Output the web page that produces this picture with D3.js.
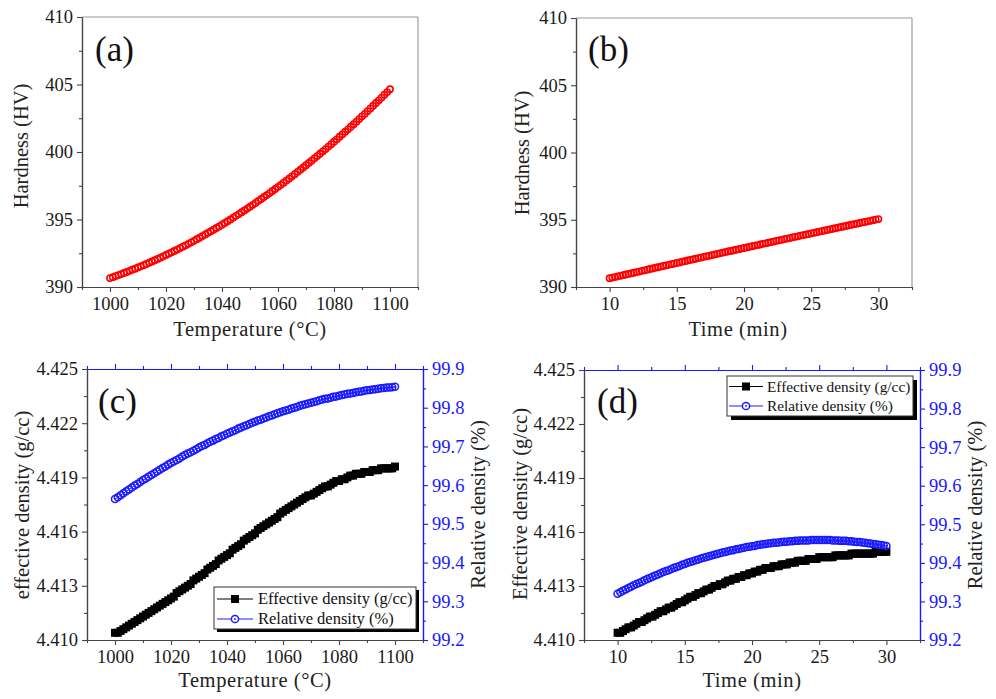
<!DOCTYPE html>
<html><head><meta charset="utf-8">
<script src="https://cdn.jsdelivr.net/npm/d3@7"></script>
<style>
html,body{margin:0;padding:0;background:#fff;}
svg text{font-family:"Liberation Serif","Times New Roman",Times,"DejaVu Serif",serif !important;}
</style></head>
<body>
<svg id="chart" width="996" height="699" font-family="Liberation Serif, Times New Roman, DejaVu Serif, serif"></svg>
<script>
// ---------- data ----------
const tempX = d3.range(1000, 1101, 1);
const timeX = d3.range(0, 101).map(i => +(10 + i * 0.2).toFixed(1));

const hardnessTemp = [390.66,390.73,390.81,390.88,390.96,391.04,391.11,391.20,391.28,391.36,391.45,
391.53,391.62,391.71,391.80,391.89,391.98,392.08,392.17,392.27,392.37,
392.47,392.57,392.67,392.77,392.88,392.99,393.09,393.20,393.31,393.42,
393.54,393.65,393.77,393.89,394.01,394.13,394.25,394.37,394.49,394.62,
394.75,394.87,395.00,395.14,395.27,395.40,395.54,395.67,395.81,395.95,
396.09,396.23,396.38,396.52,396.67,396.81,396.96,397.11,397.26,397.42,
397.57,397.73,397.88,398.04,398.20,398.36,398.53,398.69,398.85,399.02,
399.19,399.36,399.53,399.70,399.87,400.05,400.22,400.40,400.58,400.76,
400.94,401.13,401.31,401.50,401.68,401.87,402.06,402.25,402.44,402.64,
402.83,403.03,403.23,403.43,403.63,403.83,404.03,404.24,404.44,404.65];

const hardnessTime = [390.65,390.70,390.74,390.79,390.83,390.88,390.93,390.97,391.02,391.06,391.11,
391.15,391.20,391.24,391.29,391.34,391.38,391.43,391.47,391.52,391.56,
391.61,391.65,391.70,391.74,391.79,391.83,391.88,391.92,391.97,392.01,
392.06,392.10,392.15,392.19,392.24,392.28,392.32,392.37,392.41,392.46,
392.50,392.55,392.59,392.64,392.68,392.72,392.77,392.81,392.86,392.90,
392.94,392.99,393.03,393.08,393.12,393.16,393.21,393.25,393.29,393.34,
393.38,393.43,393.47,393.51,393.56,393.60,393.64,393.69,393.73,393.77,
393.82,393.86,393.90,393.94,393.99,394.03,394.07,394.12,394.16,394.20,
394.24,394.29,394.33,394.37,394.42,394.46,394.50,394.54,394.59,394.63,
394.67,394.71,394.76,394.80,394.84,394.88,394.92,394.97,395.01,395.05];

const effDensTemp = [4.4104,4.4104,4.4105,4.4106,4.4107,4.4108,4.4109,4.4110,4.4111,4.4112,4.4113,
4.4114,4.4115,4.4116,4.4117,4.4118,4.4119,4.4120,4.4121,4.4122,4.4123,
4.4124,4.4126,4.4127,4.4128,4.4129,4.4130,4.4131,4.4133,4.4134,4.4135,
4.4136,4.4137,4.4139,4.4140,4.4141,4.4142,4.4144,4.4145,4.4146,4.4147,
4.4148,4.4150,4.4151,4.4152,4.4153,4.4155,4.4156,4.4157,4.4158,4.4159,
4.4161,4.4162,4.4163,4.4164,4.4165,4.4166,4.4167,4.4168,4.4170,4.4171,
4.4172,4.4173,4.4174,4.4175,4.4176,4.4177,4.4178,4.4179,4.4180,4.4180,
4.4181,4.4182,4.4183,4.4184,4.4185,4.4185,4.4186,4.4187,4.4188,4.4188,
4.4189,4.4189,4.4190,4.4191,4.4191,4.4192,4.4192,4.4192,4.4193,4.4193,
4.4193,4.4194,4.4194,4.4194,4.4195,4.4195,4.4195,4.4195,4.4195,4.4196];

const relDensTemp = [99.564,99.569,99.574,99.579,99.584,99.589,99.594,99.599,99.603,99.608,99.613,
99.617,99.622,99.626,99.631,99.635,99.640,99.644,99.648,99.653,99.657,
99.661,99.665,99.669,99.674,99.678,99.682,99.685,99.689,99.693,99.697,
99.701,99.704,99.708,99.712,99.715,99.719,99.722,99.726,99.729,99.733,
99.736,99.739,99.742,99.746,99.749,99.752,99.755,99.758,99.761,99.764,
99.767,99.769,99.772,99.775,99.778,99.780,99.783,99.786,99.788,99.791,
99.793,99.795,99.798,99.800,99.802,99.805,99.807,99.809,99.811,99.813,
99.815,99.817,99.819,99.821,99.823,99.824,99.826,99.828,99.829,99.831,
99.833,99.834,99.836,99.837,99.838,99.840,99.841,99.842,99.844,99.845,
99.846,99.847,99.848,99.849,99.850,99.851,99.852,99.852,99.853,99.854];

const effDensTime = [4.4104,4.4104,4.4105,4.4106,4.4107,
4.4107,4.4108,4.4109,4.4110,4.4110,
4.4111,4.4112,4.4113,4.4113,4.4114,
4.4115,4.4116,4.4116,4.4117,4.4118,
4.4118,4.4119,4.4120,4.4121,4.4121,
4.4122,4.4123,4.4124,4.4124,4.4125,
4.4126,4.4126,4.4127,4.4128,4.4128,
4.4129,4.4130,4.4130,4.4131,4.4131,
4.4132,4.4133,4.4133,4.4134,4.4134,
4.4135,4.4135,4.4136,4.4136,4.4137,
4.4137,4.4138,4.4138,4.4139,4.4139,
4.4140,4.4140,4.4140,4.4141,4.4141,
4.4141,4.4142,4.4142,4.4142,4.4143,
4.4143,4.4143,4.4144,4.4144,4.4144,
4.4144,4.4145,4.4145,4.4145,4.4145,
4.4146,4.4146,4.4146,4.4146,4.4146,
4.4146,4.4147,4.4147,4.4147,4.4147,
4.4147,4.4147,4.4148,4.4148,4.4148,
4.4148,4.4148,4.4148,4.4148,4.4148,
4.4148,4.4149,4.4149,4.4149,4.4149,
4.4149];

const relDensTime = [99.320,99.324,99.328,99.331,99.335,99.338,99.342,99.345,99.348,99.351,99.355,
99.358,99.361,99.364,99.367,99.370,99.373,99.376,99.379,99.381,99.384,
99.387,99.389,99.392,99.395,99.397,99.400,99.402,99.404,99.407,99.409,
99.411,99.413,99.415,99.417,99.419,99.421,99.423,99.425,99.427,99.428,
99.430,99.432,99.433,99.435,99.436,99.438,99.439,99.441,99.442,99.443,
99.444,99.446,99.447,99.448,99.449,99.450,99.451,99.452,99.452,99.453,
99.454,99.455,99.455,99.456,99.456,99.457,99.457,99.458,99.458,99.458,
99.458,99.459,99.459,99.459,99.459,99.459,99.459,99.459,99.459,99.458,
99.458,99.458,99.457,99.457,99.457,99.456,99.456,99.455,99.454,99.454,
99.453,99.452,99.451,99.450,99.449,99.448,99.447,99.446,99.445,99.444];

const tempTicks = [1000, 1020, 1040, 1060, 1080, 1100];
const tempMinor = [990, 1010, 1030, 1050, 1070, 1090, 1110];
const timeTicks = [10, 15, 20, 25, 30];
const timeMinor = [7.5, 12.5, 17.5, 22.5, 27.5, 32.5];
const hardTicks = [390, 395, 400, 405, 410];
const hardMinor = [392.5, 397.5, 402.5, 407.5];
const effTicks = [4.410, 4.413, 4.416, 4.419, 4.422, 4.425];
const effMinor = [4.4115, 4.4145, 4.4175, 4.4205, 4.4235];
const relTicks = [99.2, 99.3, 99.4, 99.5, 99.6, 99.7, 99.8, 99.9];
const relMinor = [99.25, 99.35, 99.45, 99.55, 99.65, 99.75, 99.85];

const legendLabels = ["Effective density (g/cc)", "Relative density (%)"];

// ---------- drawing ----------
const FONT = '"Liberation Serif","Times New Roman",Times,"DejaVu Serif",serif';
const svg = d3.select("#chart");
const AXIS = "#444", FRAME = "#9a9a9a", BLUE = "#1a1aff", RED = "#ff0000";

function styleAxis(g, color, textColor) {
  g.attr("font-family", null);
  g.select(".domain").attr("stroke", color).attr("stroke-width", 1.2);
  g.selectAll(".tick line").attr("stroke", color).attr("stroke-width", 1.1);
  g.selectAll(".tick text").attr("fill", textColor || "#1a1a1a")
    .attr("font-family", FONT).style("font-family", FONT).style("font-size", "18.5px");
}
function txt(sel) { return sel.attr("font-family", FONT).style("font-family", FONT); }

function panel(p) {
  const x = d3.scaleLinear().domain(p.xDomain).range([p.l, p.r]);
  const y = d3.scaleLinear().domain(p.yDomain).range([p.b, p.t]);
  const g = svg.append("g");

  if (!p.yR) {
    g.append("line").attr("x1", p.l).attr("x2", p.r).attr("y1", p.t).attr("y2", p.t).attr("stroke", FRAME).attr("stroke-width", 1.2);
    g.append("line").attr("x1", p.r).attr("x2", p.r).attr("y1", p.t).attr("y2", p.b).attr("stroke", FRAME).attr("stroke-width", 1.2);
  }
  let yR = null;
  if (p.yR) {
    yR = d3.scaleLinear().domain(p.yR.domain).range([p.b, p.t]);
    const top = g.append("g").attr("transform", `translate(0,${p.t})`)
      .call(d3.axisTop(x).tickValues(p.xTicks).tickSize(5).tickSizeOuter(0).tickFormat(""));
    styleAxis(top, BLUE);
    const topm = g.append("g").attr("transform", `translate(0,${p.t})`)
      .call(d3.axisTop(x).tickValues(p.xMinor).tickSize(3).tickSizeOuter(0).tickFormat(""));
    styleAxis(topm, BLUE);
    const ra = g.append("g").attr("transform", `translate(${p.r},0)`)
      .call(d3.axisRight(yR).tickValues(p.yR.ticks).tickSize(5).tickPadding(4).tickSizeOuter(0).tickFormat(d3.format(".1f")));
    styleAxis(ra, BLUE, BLUE);
    const ram = g.append("g").attr("transform", `translate(${p.r},0)`)
      .call(d3.axisRight(yR).tickValues(p.yR.minor).tickSize(3).tickSizeOuter(0).tickFormat(""));
    styleAxis(ram, BLUE);
    txt(g.append("text")).attr("transform", `translate(${p.yR.titleX},${(p.t + p.b) / 2}) rotate(-90)`)
      .attr("text-anchor", "middle").attr("dy", "0.35em").style("font-size", "20.5px").attr("fill", "#222").text(p.yR.title);
  }

  const bx = g.append("g").attr("transform", `translate(0,${p.b})`)
    .call(d3.axisBottom(x).tickValues(p.xTicks).tickSize(5).tickPadding(5).tickSizeOuter(0).tickFormat(d3.format("d")));
  styleAxis(bx, AXIS);
  const bxm = g.append("g").attr("transform", `translate(0,${p.b})`)
    .call(d3.axisBottom(x).tickValues(p.xMinor).tickSize(3).tickSizeOuter(0).tickFormat(""));
  styleAxis(bxm, AXIS);
  const ly = g.append("g").attr("transform", `translate(${p.l},0)`)
    .call(d3.axisLeft(y).tickValues(p.yTicks).tickSize(5).tickPadding(4).tickSizeOuter(0).tickFormat(d3.format(p.yFmt)));
  styleAxis(ly, AXIS);
  const lym = g.append("g").attr("transform", `translate(${p.l},0)`)
    .call(d3.axisLeft(y).tickValues(p.yMinor).tickSize(3).tickSizeOuter(0).tickFormat(""));
  styleAxis(lym, AXIS);

  txt(g.append("text")).attr("x", p.xTitleX).attr("y", p.xTitleY).attr("text-anchor", "middle")
    .style("font-size", "20.5px").style("letter-spacing", "0.6px").attr("fill", "#222").text(p.xTitle);
  txt(g.append("text")).attr("transform", `translate(${p.yTitleX},${p.yTitleY}) rotate(-90)`)
    .attr("text-anchor", "middle").attr("dy", "0.35em").style("font-size", "20.5px").attr("fill", "#222").text(p.yTitle);
  txt(g.append("text")).attr("x", p.tagX).attr("y", p.tagY).style("font-size", "35px").attr("fill", "#111").text(p.tag);

  return {x, y, yR, g};
}

function circles(g, xs, ys, x, y, color, r, sw, dot) {
  g.append("g").selectAll("circle").data(xs).join("circle")
    .attr("cx", (d) => x(d)).attr("cy", (d, i) => y(ys[i])).attr("r", r)
    .attr("fill", "none").attr("stroke", color).attr("stroke-width", sw);
  if (dot) {
    g.append("circle").attr("cx", x(xs[xs.length - 1])).attr("cy", y(ys[ys.length - 1]))
      .attr("r", 0.9).attr("fill", color);
  }
}
function squares(g, xs, ys, x, y, s) {
  g.append("g").selectAll("rect").data(xs).join("rect")
    .attr("x", (d) => x(d) - s / 2).attr("y", (d, i) => y(ys[i]) - s / 2)
    .attr("width", s).attr("height", s).attr("fill", "#000");
}
function line(g, xs, ys, x, y, color) {
  g.append("path").datum(xs).attr("fill", "none").attr("stroke", color).attr("stroke-width", 1)
    .attr("d", d3.line().x((d) => x(d)).y((d, i) => y(ys[i])));
}
function legend(g, bx, by, bw, bh, rowY, sx0, sx1, tx, fs, shadow) {
  g.append("rect").attr("x", bx + shadow).attr("y", by + shadow).attr("width", bw).attr("height", bh).attr("fill", "#000");
  g.append("rect").attr("x", bx).attr("y", by).attr("width", bw).attr("height", bh)
    .attr("fill", "#fff").attr("stroke", "#333").attr("stroke-width", 1);
  const cx = (sx0 + sx1) / 2;
  g.append("line").attr("x1", sx0).attr("x2", sx1).attr("y1", rowY[0]).attr("y2", rowY[0]).attr("stroke", "#000").attr("stroke-width", 1);
  g.append("rect").attr("x", cx - 4).attr("y", rowY[0] - 4).attr("width", 8).attr("height", 8).attr("fill", "#000");
  txt(g.append("text")).attr("x", tx).attr("y", rowY[0]).attr("dy", "0.33em").style("font-size", fs + "px").attr("fill", "#111").text(legendLabels[0]);
  g.append("line").attr("x1", sx0).attr("x2", sx1).attr("y1", rowY[1]).attr("y2", rowY[1]).attr("stroke", BLUE).attr("stroke-width", 1);
  g.append("circle").attr("cx", cx).attr("cy", rowY[1]).attr("r", 3.6).attr("fill", "#fff").attr("stroke", BLUE).attr("stroke-width", 1.5);
  g.append("circle").attr("cx", cx).attr("cy", rowY[1]).attr("r", 0.9).attr("fill", BLUE);
  txt(g.append("text")).attr("x", tx).attr("y", rowY[1]).attr("dy", "0.33em").style("font-size", fs + "px").attr("fill", "#111").text(legendLabels[1]);
}

// (a)
const A = panel({l: 82, r: 418, t: 17, b: 287, xDomain: [990, 1110], yDomain: [390, 410],
  xTicks: tempTicks, xMinor: tempMinor, yTicks: hardTicks, yMinor: hardMinor, yFmt: "d",
  xTitle: "Temperature (\u00B0C)", xTitleX: 250, xTitleY: 336, yTitle: "Hardness (HV)", yTitleX: 21, yTitleY: 146,
  tag: "(a)", tagX: 95, tagY: 61});
circles(A.g, tempX, hardnessTemp, A.x, A.y, RED, 3.1, 1.6, false);

// (b)
const B = panel({l: 576, r: 912, t: 18, b: 287, xDomain: [7.5, 32.5], yDomain: [390, 410],
  xTicks: timeTicks, xMinor: timeMinor, yTicks: hardTicks, yMinor: hardMinor, yFmt: "d",
  xTitle: "Time (min)", xTitleX: 738, xTitleY: 336, yTitle: "Hardness (HV)", yTitleX: 522, yTitleY: 153,
  tag: "(b)", tagX: 588, tagY: 61});
circles(B.g, timeX, hardnessTime, B.x, B.y, RED, 3.1, 1.6, false);

// (c)
const C = panel({l: 87, r: 423, t: 369, b: 640, xDomain: [990, 1110], yDomain: [4.410, 4.425],
  xTicks: tempTicks, xMinor: tempMinor, yTicks: effTicks, yMinor: effMinor, yFmt: ".3f",
  xTitle: "Temperature (\u00B0C)", xTitleX: 255, xTitleY: 687, yTitle: "effective density (g/cc)", yTitleX: 22, yTitleY: 505,
  tag: "(c)", tagX: 98, tagY: 413,
  yR: {domain: [99.2, 99.9], ticks: relTicks, minor: relMinor, title: "Relative density (%)", titleX: 478}});
line(C.g, tempX, effDensTemp, C.x, C.y, "#000");
squares(C.g, tempX, effDensTemp, C.x, C.y, 8);
line(C.g, tempX, relDensTemp, C.x, C.yR, BLUE);
circles(C.g, tempX, relDensTemp, C.x, C.yR, BLUE, 3.5, 1.5, true);
legend(C.g, 214, 587, 202, 42, [599, 619], 217, 253, 258, 16.5, 3);

// (d)
const D = panel({l: 584, r: 920, t: 370, b: 640, xDomain: [7.5, 32.5], yDomain: [4.410, 4.425],
  xTicks: timeTicks, xMinor: timeMinor, yTicks: effTicks, yMinor: effMinor, yFmt: ".3f",
  xTitle: "Time (min)", xTitleX: 752, xTitleY: 687, yTitle: "Effective density (g/cc)", yTitleX: 520, yTitleY: 504,
  tag: "(d)", tagX: 597, tagY: 413,
  yR: {domain: [99.2, 99.9], ticks: relTicks, minor: relMinor, title: "Relative density (%)", titleX: 975}});
line(D.g, timeX, effDensTime, D.x, D.y, "#000");
squares(D.g, timeX, effDensTime, D.x, D.y, 8);
line(D.g, timeX, relDensTime, D.x, D.yR, BLUE);
circles(D.g, timeX, relDensTime, D.x, D.yR, BLUE, 3.5, 1.5, true);
legend(D.g, 727, 376, 186, 40, [386.5, 406], 729, 763, 767, 15.3, 4);
</script>
</body></html>
